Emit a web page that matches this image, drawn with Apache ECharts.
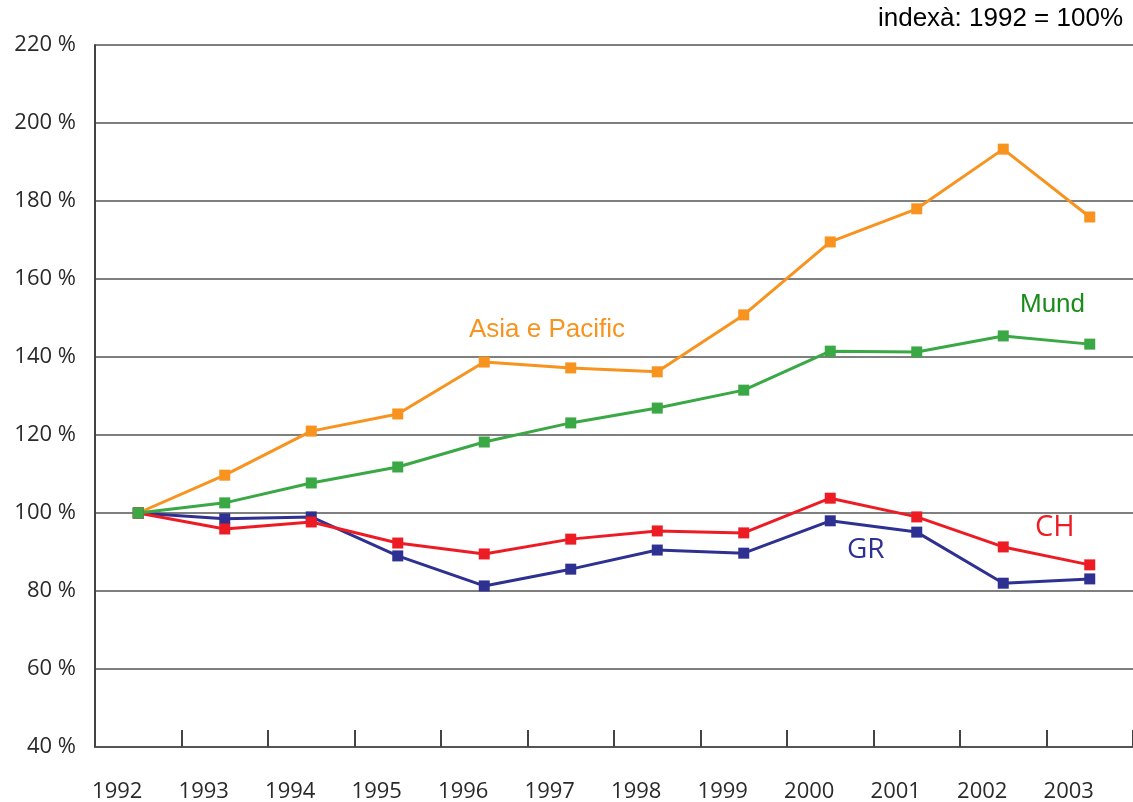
<!DOCTYPE html>
<html>
<head>
<meta charset="utf-8">
<script src="https://cdn.jsdelivr.net/npm/echarts@6/dist/echarts.min.js"></script>
<style>
  html, body { margin: 0; padding: 0; background: #fff; }
  #chart { width: 1133px; height: 802px; }
</style>
</head>
<body>
<div id="chart"></div>
<script>
const years = ["1992", "1993", "1994", "1995", "1996", "1997", "1998", "1999", "2000", "2001", "2002", "2003"];
const asiaPacific = [100, 109.7, 121, 125.4, 138.7, 137.2, 136.2, 150.8, 169.5, 178, 193.3, 175.9];
const mund = [100, 102.6, 107.7, 111.8, 118.2, 123.1, 126.9, 131.5, 141.5, 141.3, 145.4, 143.3];
const ch = [100, 95.9, 97.7, 92.3, 89.5, 93.3, 95.4, 94.9, 103.8, 99, 91.3, 86.7];
const gr = [100, 98.5, 99, 89, 81.3, 85.6, 90.5, 89.7, 98, 95.1, 82, 83.1];

const axisFont = "'Open Sans', 'DejaVu Sans', sans-serif";
const arial = "'Liberation Sans', Arial, sans-serif";

function line(name, data, color) {
  return {
    name: name,
    type: "line",
    data: data,
    symbol: "rect",
    symbolSize: 11,
    lineStyle: { color: color, width: 3 },
    itemStyle: { color: color },
    animation: false
  };
}

const chart = echarts.init(document.getElementById("chart"));
chart.setOption({
  backgroundColor: "#fff",
  animation: false,
  grid: { left: 95, right: 0, top: 45, bottom: 55, outerBoundsMode: "none" },
  xAxis: {
    type: "category",
    data: years,
    boundaryGap: true,
    axisLine: { lineStyle: { color: "#555", width: 2 } },
    axisTick: { show: true, inside: true, length: 17, lineStyle: { color: "#444", width: 2 } },
    axisLabel: {
      color: "#2a2a2a", fontSize: 22, fontFamily: axisFont, margin: 34,
      padding: [0, 42, 0, 0]
    }
  },
  yAxis: {
    type: "value",
    min: 40,
    max: 220,
    interval: 20,
    axisLine: { show: true, lineStyle: { color: "#444", width: 2 } },
    axisTick: { show: false },
    axisLabel: {
      color: "#2a2a2a",
      fontSize: 22,
      fontFamily: axisFont,
      margin: 19,
      formatter: v => v + " %"
    },
    splitLine: { lineStyle: { color: "#555", width: 1.5 } }
  },
  graphic: [
    { type: "text", right: 10, top: 6, style: { text: "indexà: 1992 = 100%", fontSize: 26, fontFamily: arial, fill: "#000" } },
    { type: "text", left: 469, top: 317, style: { text: "Asia e Pacific", fontSize: 26, fontFamily: arial, fill: "#F7931E" } },
    { type: "text", left: 1020, top: 292, style: { text: "Mund", fontSize: 26, fontFamily: arial, fill: "#1A8C1A" } },
    { type: "text", left: 1035, top: 513, style: { text: "CH", fontSize: 29, fontFamily: axisFont, fill: "#ED1C24" } },
    { type: "text", left: 847, top: 536, style: { text: "GR", fontSize: 28, fontFamily: axisFont, fill: "#2E3192" } }
  ],
  series: [
    line("Asia e Pacific", asiaPacific, "#F7931E"),
    line("GR", gr, "#2E3192"),
    line("CH", ch, "#ED1C24"),
    line("Mund", mund, "#39A845")
  ]
});
</script>
</body>
</html>
